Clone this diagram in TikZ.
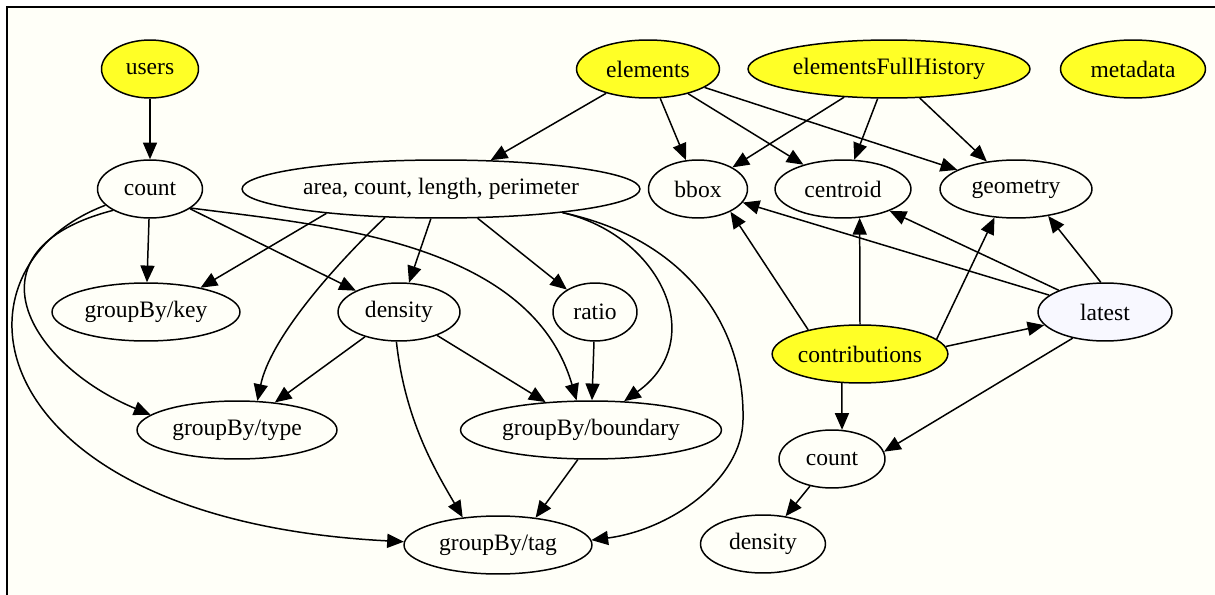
\documentclass[tikz,border=0pt]{standalone}
\usepackage{fontspec}
\setmainfont{Liberation Serif}
\usetikzlibrary{arrows.meta,shapes.geometric}
\definecolor{paper}{HTML}{FFFFF8}
\definecolor{source}{HTML}{FFFF26}
\definecolor{ghost}{HTML}{F8F8FF}

\begin{document}
\begin{tikzpicture}[x=0.02cm,y=-0.02cm,font=\fontsize{13.4}{16}\selectfont,
  stat/.style={draw,ellipse,line width=0.85pt,inner sep=0pt,minimum height=1.16cm,fill=paper},
  src/.style={stat,fill=source},
  dep/.style={line width=0.85pt,-{Triangle[length=9.5pt,width=8pt]}}]
\useasboundingbox (0,0) rectangle (1215,595);
\fill[paper] (7,7) rectangle (1215,595);
\draw[line width=1.1pt] (7,595) -- (7,7) -- (1215,7);

\node[src,minimum width=1.94cm] (users) at (150,69) {users};
\node[src,minimum width=2.86cm] (elements) at (648,69) {elements};
\node[src,minimum width=5.64cm] (efh) at (889,69) {elementsFullHistory};
\node[src,minimum width=2.9cm] (metadata) at (1133,69) {metadata};
\node[stat,minimum width=2.1cm] (ucount) at (150,189) {count};
\node[stat,minimum width=7.96cm] (agg) at (441,189) {area, count, length, perimeter};
\node[stat,minimum width=1.98cm] (bbox) at (698,189) {bbox};
\node[stat,minimum width=2.72cm] (centroid) at (843,189) {centroid};
\node[stat,minimum width=3.04cm] (geometry) at (1016,189) {geometry};
\node[stat,minimum width=3.76cm] (bykey) at (146,312) {groupBy/key};
\node[stat,minimum width=2.44cm] (density) at (399,312) {density};
\node[stat,minimum width=1.68cm] (ratio) at (595,312) {ratio};
\node[stat,fill=ghost,minimum width=2.68cm] (latest) at (1105,312) {latest};
\node[src,minimum width=3.48cm] (contrib) at (860,354) {contributions};
\node[stat,minimum width=4cm] (bytype) at (237,430) {groupBy/type};
\node[stat,minimum width=5.22cm] (bybound) at (591,430) {groupBy/boundary};
\node[stat,minimum width=2.12cm] (ccount) at (832,459) {count};
\node[stat,minimum width=3.76cm] (bytag) at (498,545) {groupBy/tag};
\node[stat,minimum width=2.5cm] (cdensity) at (763,544) {density};

\draw[dep] (users) -- (ucount);
\draw[dep] (elements) -- (agg);
\draw[dep] (elements) -- (bbox);
\draw[dep] (elements) -- (centroid);
\draw[dep] (elements) -- (geometry);
\draw[dep] (efh) -- (bbox);
\draw[dep] (efh) -- (centroid);
\draw[dep] (efh) -- (geometry);

\draw[dep] (ucount) -- (bykey);
\draw[dep] (ucount) -- (density);
\draw[dep] (ucount.-25) .. controls (320,225) and (530,240) .. (bybound.116);
\draw[dep] (ucount.210) .. controls (-40,250) and (30,365) .. (bytype.170);
\draw[dep] (ucount.200) .. controls (-65,270) and (-20,520) .. (bytag.178);

\draw[dep] (agg.192) -- (bykey.24);
\draw[dep] (agg) -- (density);
\draw[dep] (agg) -- (ratio);
\draw[dep] (agg.207) .. controls (330,270) and (270,340) .. (bytype.55);
\draw[dep] (agg.-11) .. controls (660,235) and (710,340) .. (bybound.41);
\draw[dep] (agg.-11) .. controls (690,240) and (745,330) .. (743,420)
  .. controls (742,480) and (670,530) .. (bytag.3);

\draw[dep] (density) -- (bytype);
\draw[dep] (density) -- (bybound);
\draw[dep] (density.265) .. controls (405,420) and (435,470) .. (bytag.142);
\draw[dep] (ratio) -- (bybound);
\draw[dep] (bybound.-114) -- (bytag.36);

\draw[dep] (contrib.155) -- (bbox.-35);
\draw[dep] (contrib.north) -- (centroid.-60);
\draw[dep] (contrib.11) -- (geometry.-127);
\draw[dep] (contrib.5) -- (latest);
\draw[dep] (contrib.238) -- (ccount.71);
\draw[dep] (latest) -- (bbox);
\draw[dep] (latest) -- (centroid);
\draw[dep] (latest.98) -- (geometry.-40);
\draw[dep] (latest.-141) -- (ccount.8);
\draw[dep] (ccount) -- (cdensity);
\end{tikzpicture}
\end{document}
